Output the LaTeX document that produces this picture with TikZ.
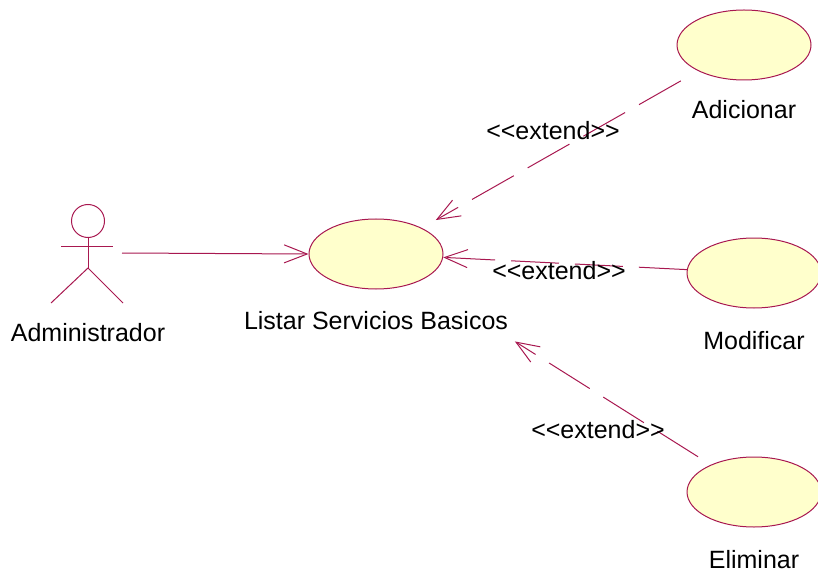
\documentclass[tikz,border=0pt]{standalone}
\usepackage{fontspec}
\setmainfont{Liberation Sans}
\usetikzlibrary{arrows.meta,shapes.geometric}
\definecolor{roseline}{RGB}{168,24,80}
\definecolor{rosefill}{RGB}{255,255,204}
\newcommand{\extendtxt}{<{}<extend>{}>}
\begin{document}
\begin{tikzpicture}[x=1pt, y=-1pt,
        font=\fontsize{25}{30}\selectfont,
        usecase/.style={ellipse, draw=roseline, fill=rosefill, line width=1pt,
            minimum width=134pt, minimum height=70pt, inner sep=0pt},
        txt/.style={inner sep=0pt, text=black},
        openhead/.style={-{Straight Barb[length=23pt, width=18pt]}},
        extendline/.style={openhead, roseline, line width=1pt, dash pattern=on 48pt off 16pt}]
        \useasboundingbox (0,0) rectangle (818,577);

        % actor
        \draw[roseline, line width=1pt] (88,221) circle (16.5);
        \draw[roseline, line width=1pt] (61,246) -- (113,246);
        \draw[roseline, line width=1pt] (88,237.5) -- (88,268);
        \draw[roseline, line width=1pt] (51,303) -- (88,268) -- (123,303);
        \node[txt] (admin) at (88,333) {Administrador};
        \coordinate (adminR) at (122,253);

        % use cases
        \node[usecase] (listar) at (376,254) {};
        \node[txt] (listarL) at (376,321) {Listar Servicios Basicos};

        \node[usecase] (adicionar) at (744,45) {};
        \node[txt] (adicionarL) at (744,110) {Adicionar};

        \node[usecase] (modificar) at (754,273) {};
        \node[txt] (modificarL) at (754,341) {Modificar};

        \node[usecase] (eliminar) at (754,492) {};
        \node[txt] (eliminarL) at (754,560) {Eliminar};

        % association
        \draw[openhead, roseline, line width=1pt] (adminR) -- (listar.west);

        % extends
        \draw[extendline, shorten >=16pt, shorten <=20pt] (adicionar) -- (listar);
        \node[txt] (ext1) at (553,131) {\extendtxt};

        \draw[extendline] (modificar) -- (listar);
        \node[txt] (ext2) at (559,271) {\extendtxt};

        \draw[extendline, shorten >=113pt, shorten <=15pt] (eliminar) -- (listar);
        \node[txt] (ext3) at (598,430) {\extendtxt};
    \end{tikzpicture}
\end{document}
